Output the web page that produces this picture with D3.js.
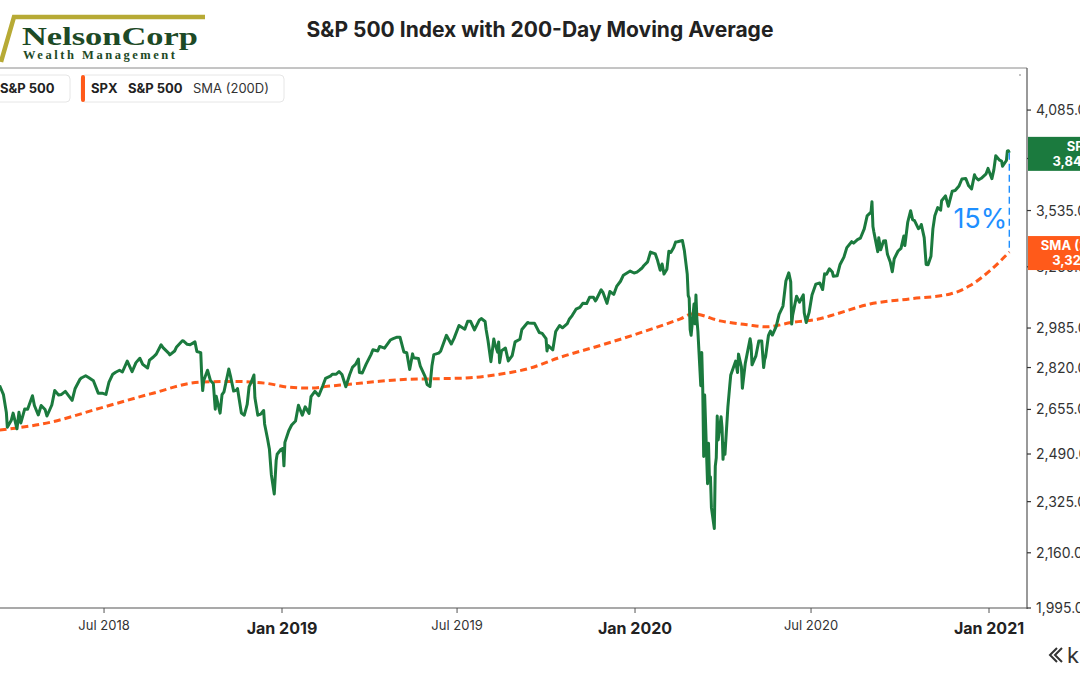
<!DOCTYPE html>
<html><head><meta charset="utf-8">
<script src="https://cdn.jsdelivr.net/npm/d3@7"></script>
<style>html,body{margin:0;padding:0;background:#fff;} svg{display:block;font-family:Inter,"Noto Sans",sans-serif;}</style>
</head><body><svg id="c" width="1080" height="675"></svg>
<script>
// ---- data ----
const spxSeries = [
["2018-03-15",2748],["2018-03-19",2712],["2018-03-22",2643],["2018-03-23",2588],["2018-03-27",2613],["2018-03-29",2641],
["2018-04-02",2582],["2018-04-04",2644],["2018-04-06",2604],["2018-04-10",2657],["2018-04-13",2656],["2018-04-18",2708],
["2018-04-20",2670],["2018-04-24",2634],["2018-04-27",2670],["2018-05-01",2655],["2018-05-03",2630],["2018-05-08",2672],
["2018-05-11",2728],["2018-05-15",2711],["2018-05-18",2713],["2018-05-22",2725],["2018-05-29",2690],["2018-06-01",2735],
["2018-06-06",2772],["2018-06-08",2779],["2018-06-12",2787],["2018-06-15",2780],["2018-06-20",2767],["2018-06-25",2718],
["2018-06-29",2718],["2018-07-03",2713],["2018-07-06",2760],["2018-07-10",2793],["2018-07-13",2801],["2018-07-17",2809],
["2018-07-20",2802],["2018-07-25",2846],["2018-07-30",2803],["2018-08-03",2840],["2018-08-07",2858],["2018-08-10",2833],
["2018-08-15",2818],["2018-08-17",2850],["2018-08-21",2863],["2018-08-24",2875],["2018-08-29",2914],["2018-08-31",2902],
["2018-09-06",2878],["2018-09-07",2872],["2018-09-12",2888],["2018-09-14",2905],["2018-09-20",2931],["2018-09-21",2930],
["2018-09-25",2916],["2018-09-28",2914],["2018-10-03",2926],["2018-10-05",2886],["2018-10-09",2881],["2018-10-10",2786],
["2018-10-11",2728],["2018-10-12",2767],["2018-10-16",2809],["2018-10-19",2768],["2018-10-22",2756],["2018-10-24",2656],
["2018-10-25",2706],["2018-10-29",2641],["2018-10-31",2712],["2018-11-02",2723],["2018-11-07",2814],["2018-11-09",2781],
["2018-11-12",2726],["2018-11-15",2730],["2018-11-16",2736],["2018-11-20",2641],["2018-11-23",2633],["2018-11-26",2674],
["2018-11-28",2744],["2018-11-30",2760],["2018-12-03",2790],["2018-12-04",2700],["2018-12-07",2633],["2018-12-10",2637],
["2018-12-13",2651],["2018-12-14",2600],["2018-12-17",2546],["2018-12-19",2507],["2018-12-21",2417],["2018-12-24",2351],
["2018-12-26",2468],["2018-12-27",2489],["2018-12-31",2507],
["2019-01-02",2510],["2019-01-03",2448],["2019-01-04",2532],["2019-01-08",2575],["2019-01-11",2596],["2019-01-15",2611],
["2019-01-18",2671],["2019-01-22",2633],["2019-01-25",2665],["2019-01-29",2640],["2019-01-31",2704],["2019-02-04",2725],
["2019-02-08",2708],["2019-02-12",2745],["2019-02-15",2776],["2019-02-20",2785],["2019-02-22",2793],["2019-02-26",2793],
["2019-03-01",2804],["2019-03-04",2792],["2019-03-08",2743],["2019-03-12",2792],["2019-03-15",2822],["2019-03-18",2833],
["2019-03-21",2855],["2019-03-22",2800],["2019-03-25",2798],["2019-03-29",2834],["2019-04-03",2873],["2019-04-05",2893],
["2019-04-10",2888],["2019-04-12",2907],["2019-04-17",2900],["2019-04-23",2934],["2019-04-26",2940],["2019-04-30",2946],
["2019-05-03",2946],["2019-05-07",2884],["2019-05-10",2881],["2019-05-13",2812],["2019-05-16",2876],["2019-05-17",2860],
["2019-05-22",2857],["2019-05-24",2826],["2019-05-29",2783],["2019-05-31",2752],["2019-06-03",2744],["2019-06-05",2826],
["2019-06-07",2873],["2019-06-12",2879],["2019-06-14",2887],["2019-06-20",2954],["2019-06-25",2917],["2019-06-28",2942],
["2019-07-03",2996],["2019-07-09",2980],["2019-07-12",3014],["2019-07-15",3014],["2019-07-19",2977],["2019-07-24",3019],
["2019-07-26",3026],["2019-07-30",3013],["2019-07-31",2980],["2019-08-02",2932],["2019-08-05",2844],["2019-08-08",2938],
["2019-08-09",2919],["2019-08-12",2883],["2019-08-13",2926],["2019-08-14",2840],["2019-08-16",2889],["2019-08-20",2900],
["2019-08-23",2847],["2019-08-27",2869],["2019-08-30",2926],["2019-09-04",2937],["2019-09-06",2979],["2019-09-12",3009],
["2019-09-13",3007],["2019-09-17",3006],["2019-09-19",3006],["2019-09-24",2966],["2019-09-27",2962],["2019-10-01",2940],
["2019-10-02",2888],["2019-10-03",2911],["2019-10-08",2893],["2019-10-11",2970],["2019-10-15",2996],["2019-10-18",2986],
["2019-10-23",3004],["2019-10-25",3023],["2019-10-28",3039],["2019-11-01",3067],["2019-11-05",3075],["2019-11-08",3093],
["2019-11-12",3092],["2019-11-15",3120],["2019-11-19",3120],["2019-11-21",3104],["2019-11-22",3110],["2019-11-27",3154],
["2019-11-29",3141],["2019-12-03",3093],["2019-12-06",3146],["2019-12-10",3133],["2019-12-13",3169],["2019-12-17",3193],
["2019-12-20",3221],["2019-12-27",3240],["2019-12-31",3231],
["2020-01-03",3235],["2020-01-06",3246],["2020-01-08",3253],["2020-01-10",3265],["2020-01-14",3283],["2020-01-17",3330],
["2020-01-22",3321],["2020-01-24",3295],["2020-01-27",3244],["2020-01-29",3273],["2020-01-31",3226],["2020-02-03",3249],
["2020-02-05",3334],["2020-02-07",3328],["2020-02-10",3352],["2020-02-12",3379],["2020-02-14",3380],["2020-02-19",3386],
["2020-02-21",3338],["2020-02-24",3226],["2020-02-25",3128],["2020-02-26",3116],["2020-02-27",2979],["2020-02-28",2954],
["2020-03-02",3090],["2020-03-03",3003],["2020-03-04",3130],["2020-03-05",3024],["2020-03-06",2972],["2020-03-09",2747],
["2020-03-10",2882],["2020-03-11",2741],["2020-03-12",2481],["2020-03-13",2711],["2020-03-16",2386],["2020-03-17",2529],
["2020-03-18",2398],["2020-03-19",2409],["2020-03-20",2305],["2020-03-23",2237],["2020-03-24",2447],["2020-03-25",2476],
["2020-03-26",2630],["2020-03-27",2541],["2020-03-30",2627],["2020-03-31",2585],["2020-04-01",2471],["2020-04-02",2527],
["2020-04-03",2489],["2020-04-06",2664],["2020-04-08",2750],["2020-04-09",2790],["2020-04-14",2846],["2020-04-16",2800],
["2020-04-17",2875],["2020-04-20",2823],["2020-04-21",2737],["2020-04-24",2837],["2020-04-29",2939],["2020-04-30",2912],
["2020-05-01",2831],["2020-05-05",2868],["2020-05-08",2930],["2020-05-11",2930],["2020-05-13",2820],["2020-05-14",2852],
["2020-05-15",2864],["2020-05-18",2954],["2020-05-20",2972],["2020-05-22",2955],["2020-05-26",2992],["2020-05-29",3044],
["2020-06-02",3081],["2020-06-05",3194],["2020-06-08",3232],["2020-06-10",3190],["2020-06-11",3002],["2020-06-12",3041],
["2020-06-16",3125],["2020-06-19",3098],["2020-06-23",3131],["2020-06-24",3050],["2020-06-26",3009],["2020-06-29",3053],
["2020-07-02",3130],["2020-07-06",3180],["2020-07-10",3185],["2020-07-13",3155],["2020-07-15",3227],["2020-07-17",3225],
["2020-07-20",3251],["2020-07-23",3236],["2020-07-24",3216],["2020-07-28",3218],["2020-07-31",3271],["2020-08-04",3306],
["2020-08-07",3351],["2020-08-12",3380],["2020-08-14",3373],["2020-08-18",3390],["2020-08-21",3397],["2020-08-25",3443],
["2020-08-28",3508],["2020-09-01",3527],["2020-09-02",3580],["2020-09-03",3455],["2020-09-04",3427],["2020-09-08",3332],
["2020-09-09",3399],["2020-09-11",3341],["2020-09-14",3383],["2020-09-16",3385],["2020-09-18",3319],["2020-09-21",3281],
["2020-09-23",3237],["2020-09-25",3298],["2020-09-29",3335],["2020-10-02",3348],["2020-10-05",3408],["2020-10-06",3361],
["2020-10-09",3477],["2020-10-12",3534],["2020-10-14",3489],["2020-10-16",3484],["2020-10-20",3444],["2020-10-22",3453],
["2020-10-23",3465],["2020-10-26",3400],["2020-10-28",3271],["2020-10-30",3270],["2020-11-02",3310],["2020-11-04",3443],
["2020-11-06",3509],["2020-11-09",3550],["2020-11-12",3537],["2020-11-13",3585],["2020-11-17",3610],["2020-11-20",3557],
["2020-11-24",3635],["2020-11-27",3638],["2020-12-01",3662],["2020-12-04",3699],["2020-12-08",3702],["2020-12-11",3663],
["2020-12-14",3647],["2020-12-17",3722],["2020-12-18",3709],["2020-12-21",3694],["2020-12-24",3703],["2020-12-29",3727],
["2020-12-31",3756],["2021-01-04",3701],["2021-01-06",3748],["2021-01-08",3825],["2021-01-12",3801],["2021-01-14",3796],
["2021-01-15",3768],["2021-01-19",3799],["2021-01-20",3852],["2021-01-21",3853],["2021-01-22",3841]
];
const smaSeries = [
["2018-03-15",2577],["2018-05-06",2606],["2018-06-27",2660],["2018-08-18",2715],["2018-10-08",2761],["2018-11-12",2764],
["2018-12-15",2757],["2019-01-09",2741],["2019-01-30",2738],["2019-02-20",2746],["2019-03-12",2753],["2019-04-12",2765],
["2019-05-13",2773],["2019-06-13",2775],["2019-07-14",2779],["2019-08-14",2793],["2019-09-14",2817],["2019-10-15",2861],
["2019-11-26",2911],["2020-01-06",2964],["2020-02-17",3025],["2020-03-01",3047],["2020-03-29",3016],["2020-04-26",2999],
["2020-05-16",2990],["2020-06-12",3010],["2020-07-10",3025],["2020-07-21",3038],["2020-08-31",3090],["2020-10-11",3113],
["2020-11-22",3135],["2020-12-12",3172],["2021-01-02",3242],["2021-01-22",3330]
];
const yTickValues = [1995,2160,2325,2490,2655,2820,2985,3260,3535,3810,4085];
const xTickDates = ["2018-07-01","2019-01-01","2019-07-01","2020-01-01","2020-07-01","2021-01-01"];
const xTickLabels = ["Jul 2018","Jan 2019","Jul 2019","Jan 2020","Jul 2020","Jan 2021"];
const xTickMajor = [false,true,false,true,false,true];
const badgeNames = ["SPX","SMA (200D)"];
const badgeValues = [3841.47,3327.93];
const gapLabel = "15%";
const legendItems = ["SPX", "S&P 500", "SMA (200D)"];

// ---- drawing ----
const parse = d3.timeParse("%Y-%m-%d");
const svg = d3.select("#c");
const L = 0, R = 1027, T = 68, B = 608;
const GREEN = "#1b7a3e", ORANGE = "#ff5a1a", BLUE = "#1e8fff";

const x = d3.scaleTime().domain([parse("2019-01-01"), parse("2021-01-01")]).range([282, 989]);
x.domain([x.invert(-6), x.invert(R)]).range([-6, R]);
const y = d3.scaleLog().domain([1995, 4340]).range([B, T]);

const spx = spxSeries.map(d => ({d: parse(d[0]), v: d[1]}));
const sma = smaSeries.map(d => ({d: parse(d[0]), v: d[1]}));

svg.append("defs").append("clipPath").attr("id","clip")
  .append("rect").attr("x", L).attr("y", T).attr("width", R - L).attr("height", B - T);

// top border
svg.append("line").attr("x1", 0).attr("x2", R).attr("y1", T).attr("y2", T).attr("stroke", "#8a8a8a").attr("stroke-width", 1);
svg.append("circle").attr("cx", 1020).attr("cy", 75).attr("r", 0.8).attr("fill", "#777");

// lines
const g = svg.append("g").attr("clip-path", "url(#clip)");
g.append("path").datum(sma).attr("fill","none").attr("stroke", ORANGE).attr("stroke-width", 3)
  .attr("stroke-dasharray", "7,4")
  .attr("d", d3.line().x(d => x(d.d)).y(d => y(d.v)).curve(d3.curveMonotoneX));
g.append("path").datum(spx).attr("fill","none").attr("stroke", GREEN).attr("stroke-width", 3)
  .attr("stroke-linejoin","round")
  .attr("d", d3.line().x(d => x(d.d)).y(d => y(d.v)));

// gap annotation
const lastP = spx[spx.length-1], lastS = sma[sma.length-1];
svg.append("line").attr("x1", x(lastP.d)).attr("x2", x(lastP.d)).attr("y1", y(lastP.v)).attr("y2", y(lastS.v))
  .attr("stroke", BLUE).attr("stroke-width", 1.4).attr("stroke-dasharray", "7,4");
svg.append("text").attr("x", x(lastP.d) - 2).attr("y", 228).attr("text-anchor","end")
  .attr("font-size", 27).attr("fill", BLUE).text(gapLabel);

// axes
const axisColor = "#555";
svg.append("line").attr("x1", 0).attr("x2", R).attr("y1", B).attr("y2", B).attr("stroke", axisColor).attr("stroke-width", 1.2);
svg.append("line").attr("x1", R).attr("x2", R).attr("y1", T).attr("y2", B + 1).attr("stroke", axisColor).attr("stroke-width", 1.2);

const xt = svg.append("g");
xTickDates.forEach((s, i) => {
  const px = x(parse(s));
  xt.append("line").attr("x1", px).attr("x2", px).attr("y1", B).attr("y2", B + 5).attr("stroke", axisColor);
  xt.append("text").attr("x", px).attr("y", xTickMajor[i] ? 634 : 630).attr("text-anchor", "middle")
    .attr("font-size", xTickMajor[i] ? 16 : 13).attr("font-weight", xTickMajor[i] ? 700 : 400)
    .attr("fill", xTickMajor[i] ? "#222" : "#333").text(xTickLabels[i]);
});

const yt = svg.append("g");
const fmt = d3.format(",.1f");
yTickValues.forEach(v => {
  const py = y(v);
  yt.append("line").attr("x1", R).attr("x2", R + 4).attr("y1", py).attr("y2", py).attr("stroke", "#333").attr("stroke-width", 1.2);
  yt.append("text").attr("x", 1036).attr("y", py + 5).attr("font-size", 14).attr("fill", "#333").text(fmt(v));
});

// badges
const badgeFmt = d3.format(",.2f");
[[lastP, GREEN, 0],[lastS, ORANGE, 1]].forEach(([p, col, i]) => {
  const cy = y(p.v) + 1;
  const bg = svg.append("g");
  bg.append("rect").attr("x", R + 1).attr("y", cy - 17).attr("width", 90).attr("height", 34).attr("fill", col);
  bg.append("text").attr("x", 1080).attr("y", cy - 3).attr("text-anchor","middle").attr("font-size", 13)
    .attr("font-weight", 700).attr("fill", "#fff").text(badgeNames[i]);
  bg.append("text").attr("x", 1080).attr("y", cy + 12).attr("text-anchor","middle").attr("font-size", 13)
    .attr("font-weight", 700).attr("fill", "#fff").text(badgeFmt(badgeValues[i]));
});

// title
svg.append("text").attr("x", 540).attr("y", 37).attr("text-anchor","middle").attr("font-size", 21)
  .attr("font-weight", 700).attr("fill", "#222").text("S&P 500 Index with 200-Day Moving Average");

// legend
const lg = svg.append("g").attr("font-size", 13).attr("fill", "#222");
lg.append("rect").attr("x", -10).attr("y", 75).attr("width", 80).attr("height", 27).attr("rx", 4)
  .attr("fill", "#fff").attr("stroke", "#e6e6e6");
lg.append("text").attr("x", 0).attr("y", 93).attr("font-weight", 700).text(legendItems[1]);
lg.append("rect").attr("x", 81).attr("y", 75).attr("width", 203).attr("height", 27).attr("rx", 4)
  .attr("fill", "#fff").attr("stroke", "#e6e6e6");
lg.append("rect").attr("x", 81).attr("y", 75).attr("width", 4).attr("height", 27).attr("rx", 2).attr("fill", ORANGE);
lg.append("text").attr("x", 91).attr("y", 93).attr("font-weight", 700).text(legendItems[0]);
lg.append("text").attr("x", 128).attr("y", 93).attr("font-weight", 700).text(legendItems[1]);
lg.append("text").attr("x", 193).attr("y", 93).attr("font-weight", 400).attr("fill", "#333").text(legendItems[2]);

// logo
const logo = svg.append("g");
logo.append("path").attr("d", "M205,17 L14,17 L1,62").attr("fill","none").attr("stroke", "#b7aa35").attr("stroke-width", 4.5);
logo.append("text").attr("x", 22).attr("y", 45).attr("font-family", "'Liberation Serif','DejaVu Serif',serif")
  .attr("font-weight", 700).attr("font-size", 25).attr("fill", "#1d4a26").attr("textLength", 176)
  .attr("lengthAdjust", "spacingAndGlyphs").text("NelsonCorp");
logo.append("text").attr("x", 23).attr("y", 59).attr("font-family", "'Liberation Serif','DejaVu Serif',serif")
  .attr("font-weight", 700).attr("font-size", 12.5).attr("fill", "#1d4a26").attr("textLength", 152)
  .attr("lengthAdjust", "spacing").text("Wealth Management");

// watermark
const wm = svg.append("g").attr("stroke", "#333").attr("stroke-width", 2).attr("fill", "none");
wm.append("path").attr("d", "M1057,648 L1050,655 L1057,662");
wm.append("path").attr("d", "M1062,648 L1055,655 L1062,662");
svg.append("text").attr("x", 1067).attr("y", 663).attr("font-size", 22).attr("fill", "#333").text("k");
</script></body></html>
